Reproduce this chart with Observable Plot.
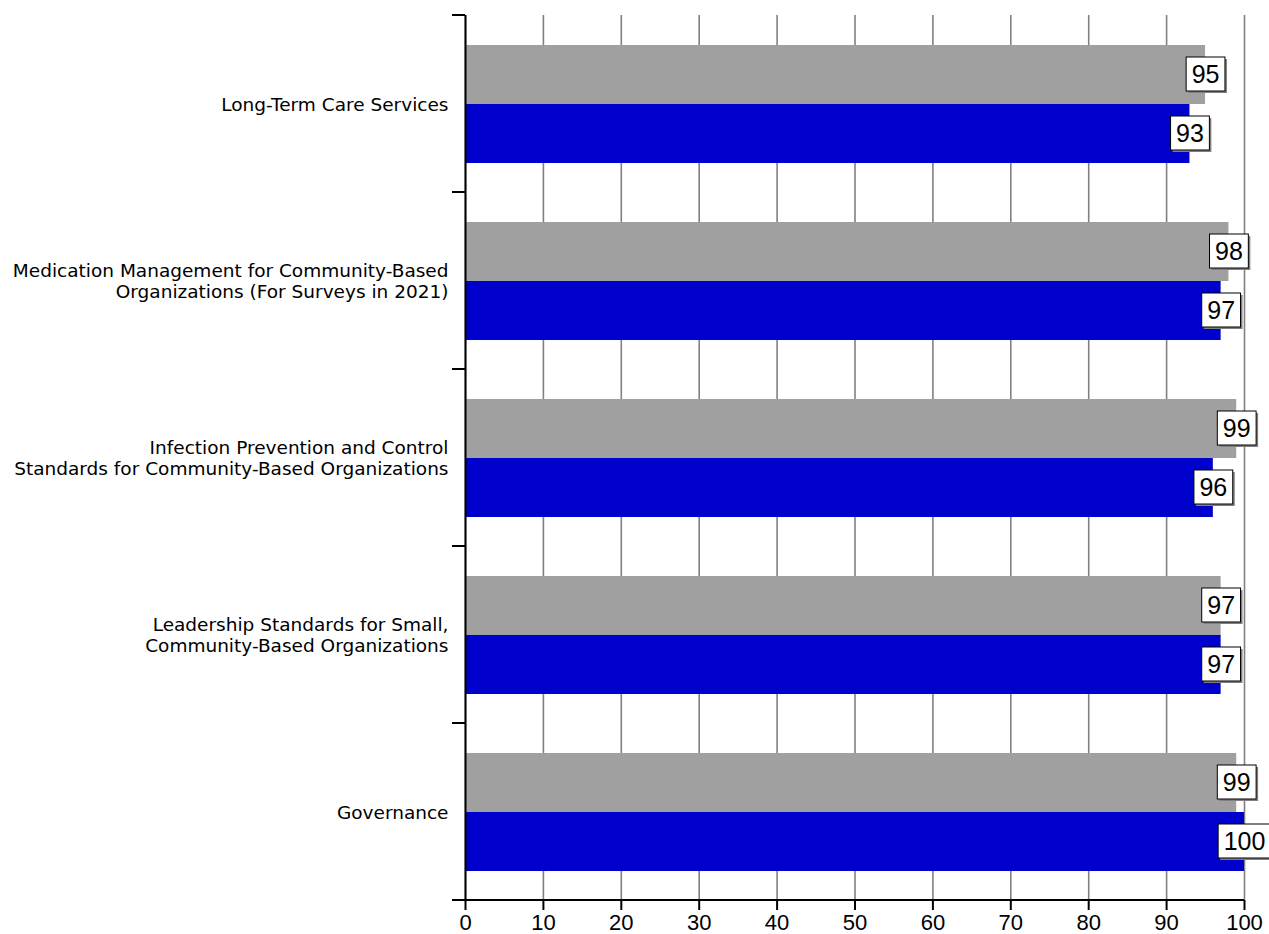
<!DOCTYPE html>
<html><head><meta charset="utf-8">
<script src="https://cdn.jsdelivr.net/npm/d3@7"></script>
<script src="https://cdn.jsdelivr.net/npm/@observablehq/plot@0.6"></script>
<style>
body{margin:0;background:#fff}
#chart svg{display:block}
</style>
</head><body><div id="chart"></div>
<script>
const categories = [
  "Long-Term Care Services",
  "Medication Management for Community-Based Organizations (For Surveys in 2021)",
  "Infection Prevention and Control Standards for Community-Based Organizations",
  "Leadership Standards for Small, Community-Based Organizations",
  "Governance"
];
const categoryLabels = [
  "Long-Term Care Services",
  "Medication Management for Community-Based\nOrganizations (For Surveys in 2021)",
  "Infection Prevention and Control\nStandards for Community-Based Organizations",
  "Leadership Standards for Small,\nCommunity-Based Organizations",
  "Governance"
];
const series = ["Series 1", "Series 2"];
const seriesColors = ["#a0a0a0", "#0000cc"];
const series1Values = [95, 98, 99, 97, 99];
const series2Values = [93, 97, 96, 97, 100];
const xTicks = [0, 10, 20, 30, 40, 50, 60, 70, 80, 90, 100];

const data = categories.flatMap((c, i) => [
  {category: c, series: series[0], value: series1Values[i]},
  {category: c, series: series[1], value: series2Values[i]}
]);
const labelOf = new Map(categories.map((c, i) => [c, categoryLabels[i]]));

const numFont = "'Liberation Sans', Arial, sans-serif";
const catFont = "'DejaVu Sans', sans-serif";

const chart = Plot.plot({
  width: 1269,
  height: 934,
  marginLeft: 465,
  marginRight: 25,
  marginTop: 14,
  marginBottom: 34,
  style: {background: "white", color: "black"},
  x: {domain: [0, 100], ticks: xTicks},
  fy: {domain: categories, padding: 0},
  y: {domain: series, paddingInner: 0, paddingOuter: 0.49, axis: null},
  color: {domain: series, range: seriesColors},
  marks: [
    Plot.gridX(xTicks, {stroke: "#808080", strokeOpacity: 1, strokeWidth: 1.6}),
    Plot.barX(data, {fy: "category", y: "series", x: "value", fill: "series"}),
    Plot.ruleX([0], {stroke: "black", strokeWidth: 2}),
    Plot.text(data, {fy: "category", y: "series", x: "value", text: d => String(d.value),
      fill: "black", fontSize: 25, fontFamily: numFont}),
    Plot.axisFy({anchor: "left", tickSize: 0, tickPadding: 17, label: null,
      tickFormat: d => labelOf.get(d), fontSize: 18.5, fontFamily: catFont, lineHeight: 1.15}),
    Plot.axisX({ticks: xTicks, tickSize: 10, tickPadding: 4, label: null, stroke: "black",
      strokeWidth: 2, fontSize: 22, fontFamily: numFont})
  ]
});

document.getElementById("chart").appendChild(chart);

// value label boxes with shadows
d3.select(chart).selectAll('g[aria-label="text"] text').each(function() {
  const t = d3.select(this);
  const bb = this.getBBox();
  const w = bb.width + 11, h = 34;
  const cx = bb.x + bb.width / 2, cy = bb.y + bb.height / 2;
  const tr = t.attr("transform");
  const parent = this.parentNode;
  const sh = d3.create("svg:rect")
    .attr("x", cx - w / 2 + 2).attr("y", cy - h / 2 + 2).attr("width", w).attr("height", h)
    .attr("fill", "#808080");
  const bx = d3.create("svg:rect")
    .attr("x", cx - w / 2).attr("y", cy - h / 2).attr("width", w).attr("height", h)
    .attr("fill", "white").attr("stroke", "black").attr("stroke-width", 1);
  if (tr) { sh.attr("transform", tr); bx.attr("transform", tr); }
  parent.insertBefore(sh.node(), this);
  parent.insertBefore(bx.node(), this);
});

// category boundary ticks on the left axis and the bottom axis line
const fy = chart.scale("fy");
const xs = chart.scale("x");
const x0 = xs.apply(0), x1 = xs.apply(100);
const bounds = categories.map(c => fy.apply(c)).concat([fy.apply(categories[categories.length - 1]) + fy.bandwidth]);
const g = d3.select(chart).append("g").attr("stroke", "black").attr("stroke-width", 2);
g.selectAll("line.b").data(bounds).join("line")
  .attr("x1", x0 - 13).attr("x2", x0).attr("y1", d => d).attr("y2", d => d);
const yb = bounds[bounds.length - 1];
g.append("line").attr("x1", x0 - 13).attr("x2", x1).attr("y1", yb).attr("y2", yb);
</script>
</body></html>
